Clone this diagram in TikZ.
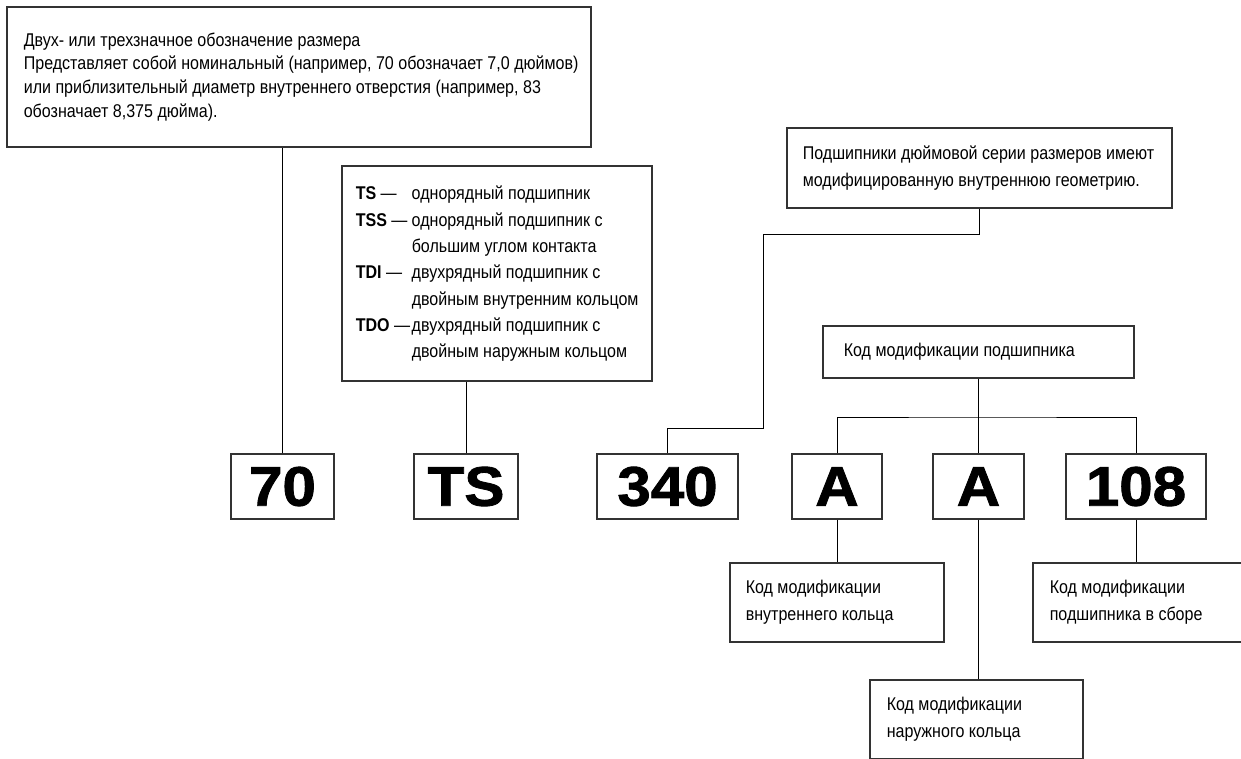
\documentclass[tikz,border=0pt]{standalone}
\usepackage{fontspec}
\setmainfont{Liberation Sans}[FakeStretch=0.87]
\newfontfamily\numfont{Liberation Sans Bold}[FakeStretch=1.08, FakeBold=1.5]
\usepackage{tikz}
\usetikzlibrary{positioning,calc}

\begin{document}
\begin{tikzpicture}[x=0.02cm, y=-0.02cm,
    box/.style={draw=black!80, line width=0.7pt, inner sep=0pt},
    txt/.style={anchor=west, align=left, inner sep=0pt, font=\fontsize{10.5}{15.3}\selectfont},
    numbox/.style={box, minimum height=1.3cm, font=\fontsize{31.7}{32}\numfont},
    link/.style={black, line width=0.5pt}]
    \useasboundingbox (0,0) rectangle (1241,758);

    % Size designation
    \node[box, minimum width=11.68cm, minimum height=2.8cm] (size) at (299,77) {};
    \node[txt, font=\fontsize{10.5}{13.6}\selectfont] (sizetxt) at ([xshift=0.34cm]size.west)
        {Двух- или трехзначное обозначение размера\\
         Представляет собой номинальный (например, 70 обозначает 7,0 дюймов)\\
         или приблизительный диаметр внутреннего отверстия (например, 83\\
         обозначает 8,375 дюйма).};

    % Bearing type
    \node[box, minimum width=6.2cm, minimum height=4.3cm] (type) at (497,273.5) {};
    \node[txt, font=\fontsize{10.5}{15}\selectfont] (typetxt) at ([xshift=0.28cm]type.west)
        {\begin{tabular}{@{}p{1.12cm}@{}l@{}}
         \textbf{TS} --- & однорядный подшипник\\
         \textbf{TSS} --- & однорядный подшипник с\\
          & большим углом контакта\\
         \textbf{TDI} --- & двухрядный подшипник с\\
          & двойным внутренним кольцом\\
         \textbf{TDO} --- & двухрядный подшипник с\\
          & двойным наружным кольцом
         \end{tabular}};

    % Inch series note
    \node[box, minimum width=7.7cm, minimum height=1.6cm] (inch) at (979.5,168) {};
    \node[txt, font=\fontsize{10.5}{15.8}\selectfont] (inchtxt) at ([xshift=0.32cm]inch.west)
        {Подшипники дюймовой серии размеров имеют\\
         модифицированную внутреннюю геометрию.};

    % Modification code
    \node[box, minimum width=6.22cm, minimum height=1.04cm] (modc) at (978.5,352) {};
    \node[txt] (modctxt) at ([xshift=0.42cm]modc.west) {Код модификации подшипника};

    % Designation boxes
    \node[numbox, minimum width=2.06cm] (n70)  at (282.5,486.5) {70};
    \node[numbox, minimum width=2.08cm] (nTS)  at (466,486.5)   {TS};
    \node[numbox, minimum width=2.82cm] (n340) at (667.5,486.5) {340};
    \node[numbox, minimum width=1.8cm]  (nA1)  at (837,486.5)   {A};
    \node[numbox, minimum width=1.82cm] (nA2)  at (978.5,486.5) {A};
    \node[numbox, minimum width=2.8cm]  (n108) at (1136,486.5)  {108};

    % Lower notes
    \node[box, minimum width=4.28cm, minimum height=1.58cm] (inner) at (837,602.5) {};
    \node[txt] (innertxt) at ([xshift=0.32cm]inner.west) {Код модификации\\внутреннего кольца};
    \node[box, minimum width=4.28cm, minimum height=1.58cm] (assy) at (1140,602.5) {};
    \node[txt] (assytxt) at ([xshift=0.34cm]assy.west) {Код модификации\\подшипника в сборе};
    \node[box, minimum width=4.26cm, minimum height=1.58cm] (outer) at (976.5,719.5) {};
    \node[txt] (outertxt) at ([xshift=0.34cm]outer.west) {Код модификации\\наружного кольца};

    % Connectors
    \coordinate (k1) at (763,234);
    \coordinate (k2) at (763,428);
    \coordinate (fork) at (978.5,417);
    \draw[link] (n70.north) -- (n70.north |- size.south);
    \draw[link] (nTS.north) -- (nTS.north |- type.south);
    \draw[link] (inch.south) |- (k1) -- (k2) -| (n340.north);
    \draw[link] (modc.south) -- (nA2.north);
    \draw[link] (nA1.north) |- (fork) -| (n108.north);
    \draw[link] (nA1.south) -- (inner.north);
    \draw[link] (nA2.south) -- (nA2.south |- outer.north);
    \draw[link] (n108.south) -- (n108.south |- assy.north);
\end{tikzpicture}
\end{document}
